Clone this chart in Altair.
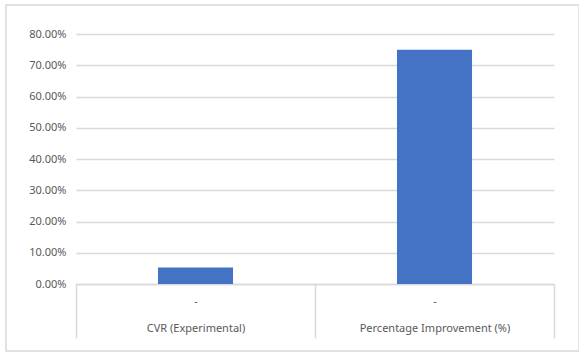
import altair as alt
import pandas as pd

categories = ["CVR (Experimental)", "Percentage Improvement (%)"]
values = [0.053, 0.75]

df = pd.DataFrame({"category": categories, "value": values})

FONT = "Noto Sans"
GRAY = "#d9d9d9"
TXT = "#595959"

bars = alt.Chart(df).mark_bar(color="#4472C4", width=alt.RelativeBandSize(0.314)).encode(
    x=alt.X(
        "category:N",
        sort=categories,
        title=None,
        scale=alt.Scale(paddingInner=0, paddingOuter=0),
        axis=alt.Axis(
            labelAngle=0,
            labelExpr="datum.label ? ['-', datum.label] : ''",
            labelLineHeight=27,
            labelFontSize=11,
            labelFont=FONT,
            labelColor=TXT,
            tickBand="extent",
            tickSize=54,
            tickColor=GRAY,
            tickWidth=1.5,
            domainColor=GRAY,
            domainWidth=1.5,
            labelPadding=-43,
            labelBaseline="top",
        ),
    ),
    y=alt.Y(
        "value:Q",
        title=None,
        scale=alt.Scale(domain=[0, 0.8], nice=False),
        axis=alt.Axis(
            format=".2%",
            values=[0, 0.1, 0.2, 0.3, 0.4, 0.5, 0.6, 0.7, 0.8],
            domain=False,
            ticks=False,
            labelPadding=10,
            labelFontSize=11,
            labelFont=FONT,
            labelColor=TXT,
            gridColor=GRAY,
            gridWidth=1.3,
        ),
    ),
)

border = alt.Chart(pd.DataFrame({"a": [0]})).mark_rect(
    fill=None, stroke=GRAY, strokeWidth=1.5
).encode(
    x=alt.value(-70),
    x2=alt.value(503),
    y=alt.value(-29),
    y2=alt.value(317),
)

chart = alt.layer(border, bars).properties(
    width=478,
    height=250,
    padding={"left": 76, "top": 34, "right": 25, "bottom": 68},
    autosize=alt.AutoSizeParams(type="none"),
    background="white",
).configure_view(stroke=None)

chart.save("out.html", embed_options={"renderer": "svg", "actions": False})
